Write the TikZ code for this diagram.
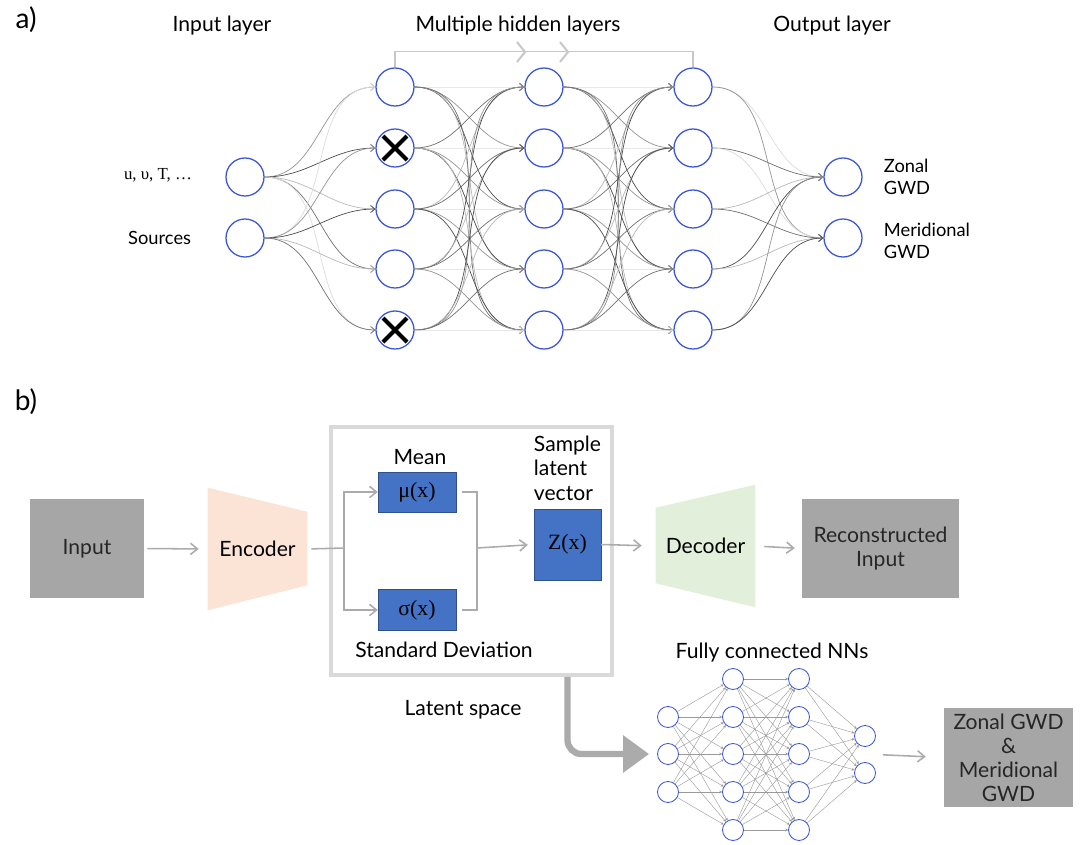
\documentclass[tikz,border=0pt]{standalone}
\usepackage{fontspec}
\setmainfont{Lato}
\newfontfamily\serifgr{Liberation Serif}
\usetikzlibrary{positioning,arrows.meta,calc,backgrounds}

\newlength\pxu
\setlength\pxu{0.025cm}

\definecolor{nodeblue}{HTML}{3A56D4}
\definecolor{boxblue}{HTML}{4472C4}
\definecolor{boxgray}{HTML}{A6A6A6}
\definecolor{encpeach}{HTML}{FBE4D5}
\definecolor{decgreen}{HTML}{E2EFDA}
\definecolor{framegray}{HTML}{D9D9D9}
\definecolor{flowgray}{HTML}{ABABAB}

\tikzset{
  neuron/.style={circle,draw=nodeblue,line width=0.9pt,fill=white,
    minimum size=38\pxu,inner sep=0pt},
  smallneuron/.style={circle,draw=nodeblue,line width=0.6pt,fill=white,
    minimum size=21\pxu,inner sep=0pt},
  wire/.style={line width=0.5pt,-{Straight Barb[length=3pt,width=5pt]}},
  thinwire/.style={draw=black!40,line width=0.3pt,-{Stealth[length=2pt,width=2pt]}},
  title/.style={font=\fontsize{15}{17}\selectfont},
  sidelabel/.style={font=\fontsize{13}{15.5}\selectfont},
  plabel/.style={font=\fontsize{20}{22}\selectfont},
  graybox/.style={fill=boxgray,text=black!85,align=center,inner sep=0pt,
    font=\fontsize{15}{17}\selectfont},
  bluebox/.style={fill=boxblue,draw=boxblue!70!black,line width=0.3pt,inner sep=0pt,
    font=\serifgr\fontsize{15.5}{17}\selectfont},
  flow/.style={draw=flowgray,line width=1.1pt,-{Straight Barb[length=5pt,width=8pt]}},
  flowline/.style={draw=flowgray,line width=1.1pt},
  bracketline/.style={draw=black!22,line width=1pt},
  crossmark/.style={line width=3pt,black}
}

\begin{document}
\begin{tikzpicture}[x=0.025cm,y=-0.025cm]
\useasboundingbox (0,0) rectangle (1080,844);

% ---------- a) ----------
\node[plabel] (la) at (26,20) {a)};
\node[title] (tin) at (222,26) {Input layer};
\node[title] (thid) at (518,26) {Multiple hidden layers};
\node[title] (tout) at (832,26) {Output layer};

\foreach \y [count=\i] in {177,238}
  \node[neuron] (inp-\i) at (245,\y) {};
\foreach \y [count=\i] in {87,148,209,269,330}{
  \node[neuron] (h1-\i) at (395,\y) {};
  \node[neuron] (h2-\i) at (544,\y) {};
  \node[neuron] (h3-\i) at (693,\y) {};
}
\foreach \y [count=\i] in {177,238}
  \node[neuron] (out-\i) at (843,\y) {};

% connections
\begin{scope}[on background layer]
\foreach \a/\b/\m/\n in {inp/h1/2/5,h1/h2/5/5,h2/h3/5/5,h3/out/5/2}{
  \foreach \i in {1,...,\m}{
    \foreach \j in {1,...,\n}{
      \pgfmathtruncatemacro\shade{14+14*mod(\i*3+\j*7+\m,5)}
      \draw[wire,black!\shade] (\a-\i.east) to[out=0,in=180] (\b-\j.west);
    }
  }
}
\end{scope}

% dropped neurons
\foreach \k in {2,5}{
  \draw[crossmark] ([shift={(-12,-12)}]h1-\k.center) -- ([shift={(12,12)}]h1-\k.center);
  \draw[crossmark] ([shift={(-12,12)}]h1-\k.center) -- ([shift={(12,-12)}]h1-\k.center);
}

% bracket over hidden layers
\draw[bracketline] (h1-1.north) -- ++(0,-16) -| (h3-1.north);
\draw[bracketline,line width=1.4pt] (517,42) -- (525,52) -- (517,62);
\draw[bracketline,line width=1.4pt] (560,42) -- (568,52) -- (560,62);

\node[anchor=east,font=\serifgr\fontsize{12}{14}\selectfont] (lvars) at (197,175) {u, υ, T, …};
\node[anchor=east,sidelabel] (lsrc) at (196,238) {Sources};
\node[anchor=west,sidelabel,align=left] (lzon) at (879,177) {Zonal\\GWD};
\node[anchor=west,sidelabel,align=left] (lmer) at (879,241) {Meridional\\GWD};

% ---------- b) ----------
\node[plabel] (lb) at (26,402) {b)};

\node[graybox,minimum width=114\pxu,minimum height=99\pxu] (inbox) at (87,548.5) {Input};

\node[minimum width=99\pxu,minimum height=122\pxu,inner sep=0pt] (enc) at (257.5,549) {};
\fill[encpeach] (enc.north west) -- ($(enc.north east)+(0,24)$)
  -- ($(enc.south east)+(0,-25)$) -- (enc.south west) -- cycle;
\node[graybox,fill=none,text=black] at (enc.center) {Encoder};

\node[draw=framegray,line width=2.6pt,minimum width=281\pxu,minimum height=248\pxu]
  (latent) at (471.5,551) {};
\node[title] (llat) at (463,710) {Latent space};

\node[bluebox,minimum width=78\pxu,minimum height=40\pxu] (mu) at (417,492) {μ(x)};
\node[bluebox,minimum width=78\pxu,minimum height=41\pxu] (sig) at (417,610) {σ(x)};
\node[bluebox,minimum width=67\pxu,minimum height=71\pxu] (zvec) at (567.5,544.5) {Z(x)};
\node[title] (lmean) at (420,457) {Mean};
\node[title] (lstd) at (444,650) {Standard Deviation};
\node[title,font=\fontsize{15}{17.5}\selectfont,align=left,anchor=west] (lsamp) at (529,468)
  {Sample\\latent\\vector};

\coordinate (split) at (344,548);
\coordinate (join) at (477,548);
\draw[flowline,shorten <=4\pxu] (enc.east) -- (split);
\draw[flow] (split) |- (mu.west);
\draw[flow] (split) |- (sig.west);
\draw[flowline,shorten <=6\pxu] (mu.east) -| (join);
\draw[flowline,shorten <=6\pxu] (sig.east) -| (join);
\draw[flow,shorten >=6\pxu] (join) -- (zvec.west);

\node[minimum width=99\pxu,minimum height=122\pxu,inner sep=0pt] (dec) at (705.5,546) {};
\fill[decgreen] ($(dec.north west)+(0,23)$) -- (dec.north east) -- (dec.south east)
  -- ($(dec.south west)+(0,-24)$) -- cycle;
\node[graybox,fill=none,text=black] at (dec.center) {Decoder};

\node[graybox,minimum width=157\pxu,minimum height=99\pxu] (recon) at (880.5,548.5)
  {Reconstructed\\Input};

\draw[flow,shorten <=3\pxu,shorten >=9\pxu] (inbox.east) -- (enc.west);
\draw[flow,shorten >=14\pxu] (zvec.east) -- (dec.west);
\draw[flow,shorten <=9\pxu,shorten >=7\pxu] (dec.east) -- (recon.west);

% small fully connected net
\node[title] (lfc) at (772,653) {Fully connected NNs};
\foreach \y [count=\i] in {717,754,792}
  \node[smallneuron] (fc1-\i) at (668,\y) {};
\foreach \y [count=\i] in {679,717,754,792,830}{
  \node[smallneuron] (fc2-\i) at (733,\y) {};
  \node[smallneuron] (fc3-\i) at (799,\y) {};
}
\foreach \y [count=\i] in {736,773}
  \node[smallneuron] (fc4-\i) at (865,\y) {};

\begin{scope}[on background layer]
\foreach \a/\b/\m/\n in {fc1/fc2/3/5,fc2/fc3/5/5,fc3/fc4/5/2}{
  \foreach \i in {1,...,\m}{
    \foreach \j in {1,...,\n}{
      \draw[thinwire] (\a-\i) -- (\b-\j);
    }
  }
}
\end{scope}

\draw[flowgray,line width=4.5pt,rounded corners=0.35cm,
  -{Triangle[length=0.65cm,width=0.9cm]},shorten >=0.2cm]
  (zvec.center |- latent.south) |- (fc1-2.west);

\node[graybox,minimum width=129\pxu,minimum height=99\pxu] (gwd) at (1008.5,757.5)
  {Zonal GWD\\\&\\Meridional\\GWD};
\draw[flow,shorten <=7\pxu,shorten >=18\pxu]
  ($(fc4-1.east)!0.5!(fc4-2.east)$) -- (gwd.west);

\end{tikzpicture}
\end{document}
